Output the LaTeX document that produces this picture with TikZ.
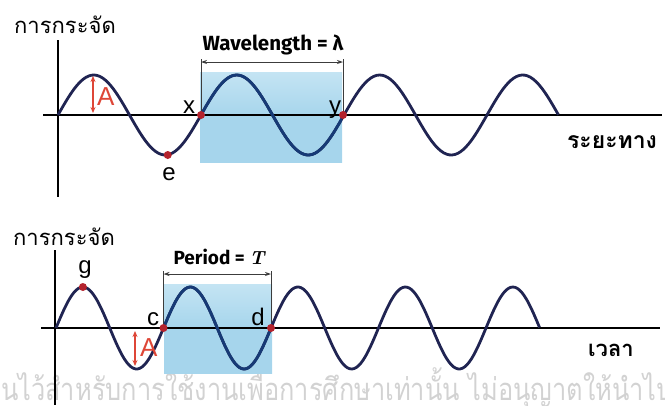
\documentclass[tikz,border=0pt]{standalone}
\usepackage{fontspec}
\newfontfamily\thaifont[Script=Thai]{Loma}
\newfontfamily\lblfont{Liberation Sans}
\newfontfamily\headfont{Fira Sans}
\usetikzlibrary{arrows.meta}
\definecolor{wavecol}{RGB}{32,36,82}
\definecolor{wavein}{RGB}{22,58,118}
\definecolor{dotred}{RGB}{180,35,45}
\definecolor{boxblue}{RGB}{166,213,236}
\definecolor{boxtop}{RGB}{196,228,243}
\definecolor{dimgray}{RGB}{60,60,60}
\definecolor{ampred}{RGB}{222,70,55}
\definecolor{wmark}{RGB}{210,210,210}
\tikzset{
  wavecurve/.style={draw=wavecol, line width=2.8pt},
  axisline/.style={draw=black, line width=1.5pt},
  reddot/.style={circle, fill=dotred, inner sep=0pt, minimum size=8pt},
  ptlabel/.style={font=\lblfont\fontsize{24}{24}\selectfont, inner sep=0pt, anchor=base},
  alabel/.style={font=\lblfont\fontsize{26}{26}\selectfont, text=ampred, inner sep=0pt, anchor=base west},
  amparrow/.style={draw=ampred, line width=1.3pt, {Stealth[length=6pt,width=5pt]}-{Stealth[length=6pt,width=5pt]}},
  dimline/.style={draw=dimgray, line width=0.9pt},
  dimarrow/.style={draw=dimgray, line width=0.9pt, {Stealth[length=6pt,width=4pt]}-{Stealth[length=6pt,width=4pt]}},
  shadebox/.style={draw=none, top color=boxtop, bottom color=boxblue, middle color=boxblue},
  thaitext/.style={font=\thaifont\fontsize{22}{22}\selectfont, inner sep=0pt},
  headtext/.style={font=\headfont\bfseries\fontsize{20.5}{20.5}\selectfont, inner sep=0pt},
}
\begin{document}
\begin{tikzpicture}[x=1pt,y=-1pt]
\useasboundingbox (0,0) rectangle (665,405);
\clip (0,0) rectangle (665,405);

% watermark
\node[font=\thaifont\fontsize{31}{31}\selectfont, text=wmark, anchor=base east, inner sep=0pt, xscale=0.82, transform shape] (wm) at (673,400) {สงวนไว้สำหรับการใช้งานเพื่อการศึกษาเท่านั้น ไม่อนุญาตให้นำไป};

% ================= TOP PANEL =================
\shade[shadebox] (200,72) rectangle (342,162);
\coordinate (o1) at (58,115);
\coordinate (h1l) at (43,115);
\coordinate (h1r) at (662,115);
\coordinate (v1t) at (58,40);
\coordinate (v1b) at (58,197);
\draw[axisline] (h1l) -- (h1r);
\draw[axisline] (v1t) -- (v1b);

\coordinate (xp) at (201,115);
\coordinate (yp) at (343,115);
\coordinate (xt) at (201,59);
\coordinate (yt) at (343,59);
\coordinate (xa) at (201,62);
\coordinate (ya) at (343,62);
\draw[dimline] (xt) -- (xp);
\draw[dimline] (yt) -- (yp);
\draw[dimarrow] (xa) -- (ya);
\node[headtext] (wl) at (273,45) {Wavelength = λ};

\draw[wavecurve] plot[domain=0:3.5, samples=180, smooth] ({58+143*\x},{115-40*sin(360*\x)});
\begin{scope}
\clip (200,60) rectangle (342,170);
\draw[wavecurve, draw=wavein] plot[domain=0.9:2.1, samples=80, smooth] ({58+143*\x},{115-40*sin(360*\x)});
\end{scope}

\node[reddot] (dx) at (xp) {};
\node[reddot] (dy) at (yp) {};
\node[reddot] (de) at (167.75,155) {};
\node[ptlabel] (lx) at (189,113) {x};
\node[ptlabel] (ly) at (335,113) {y};
\node[ptlabel] (le) at (169,180) {e};

\coordinate (a1t) at (93,76);
\coordinate (a1b) at (93,113);
\draw[amparrow] (a1t) -- (a1b);
\node[alabel] (la1) at (97,105) {A};

\node[thaitext] (dispt) at (65,25) {การกระจัด};
\node[thaitext, font=\thaifont\bfseries\fontsize{23}{23}\selectfont] (dist) at (612,142) {ระยะทาง};

% ================= BOTTOM PANEL =================
\shade[shadebox] (164,284) rectangle (272,373);
\coordinate (h2l) at (41,328);
\coordinate (h2r) at (660,328);
\coordinate (v2t) at (55,250);
\coordinate (v2b) at (55,405);
\draw[axisline] (h2l) -- (h2r);
\draw[axisline] (v2t) -- (v2b);

\coordinate (cp) at (163.5,328);
\coordinate (dp) at (271,328);
\coordinate (ct) at (163.5,271);
\coordinate (dt) at (271,271);
\coordinate (ca) at (163.5,274);
\coordinate (da) at (271,274);
\draw[dimline] (ct) -- (cp);
\draw[dimline] (dt) -- (dp);
\draw[dimarrow] (ca) -- (da);
\node[headtext, font=\headfont\bfseries\fontsize{19}{19}\selectfont] (per) at (219,257) {Period = {\rmfamily\bfseries\itshape T}};

\draw[wavecurve] plot[domain=0:4.5, samples=220, smooth] ({56+107.5*\x},{328-41*sin(360*\x)});
\begin{scope}
\clip (164,280) rectangle (272,380);
\draw[wavecurve, draw=wavein] plot[domain=0.9:2.1, samples=80, smooth] ({56+107.5*\x},{328-41*sin(360*\x)});
\end{scope}

\node[reddot] (dc) at (cp) {};
\node[reddot] (dd) at (dp) {};
\node[reddot] (dg) at (82.9,287) {};
\node[ptlabel] (lg) at (85,273) {g};
\node[ptlabel] (lc) at (153,325) {c};
\node[ptlabel] (ld) at (258,325) {d};

\coordinate (a2t) at (135,331);
\coordinate (a2b) at (135,366);
\draw[amparrow] (a2t) -- (a2b);
\node[alabel] (la2) at (140,356) {A};

\node[thaitext] (dispb) at (64,237) {การกระจัด};
\node[thaitext, font=\thaifont\bfseries\fontsize{22}{22}\selectfont] (time) at (611,350) {เวลา};
\end{tikzpicture}
\end{document}
